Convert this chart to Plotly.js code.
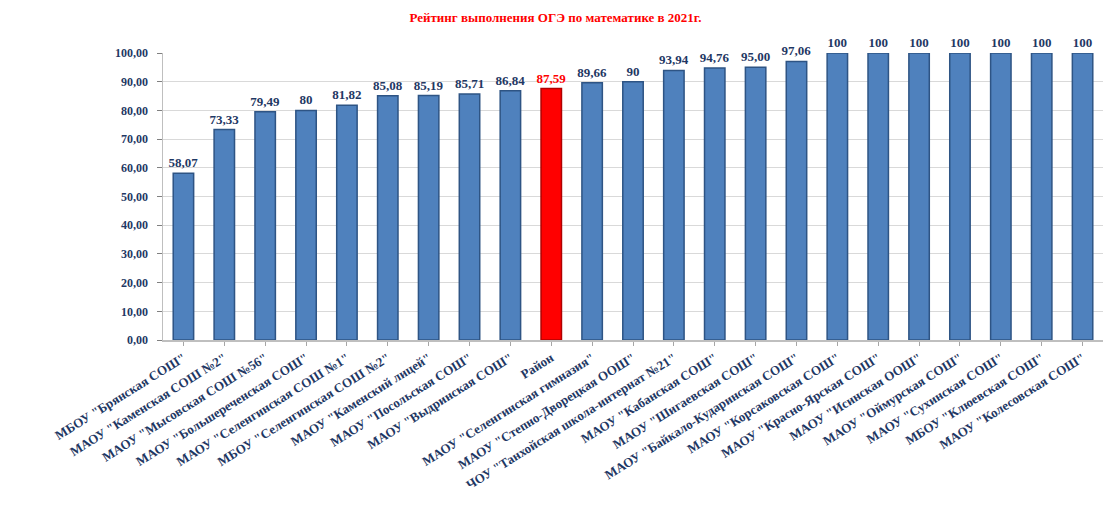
<!DOCTYPE html>
<html><head><meta charset="utf-8">
<script src="https://cdn.plot.ly/plotly-3.0.1.min.js"></script>
<style>html,body{margin:0;padding:0;background:#fff}</style>
</head><body>
<div id="chart" style="width:1111px;height:510px"></div>
<script>
const schools = [
  'МБОУ "Брянская СОШ"',
  'МАОУ "Каменская СОШ №2"',
  'МАОУ "Мысовская СОШ №56"',
  'МАОУ "Большереченская СОШ"',
  'МАОУ "Селенгинская СОШ №1"',
  'МБОУ "Селенгинская СОШ №2"',
  'МАОУ "Каменский лицей"',
  'МАОУ "Посольская СОШ"',
  'МАОУ "Выдринская СОШ"',
  'Район',
  'МАОУ "Селенгинская гимназия"',
  'МАОУ "Степно-Дворецкая ООШ"',
  'ЧОУ "Танхойская школа-интернат №21"',
  'МАОУ "Кабанская СОШ"',
  'МАОУ "Шигаевская СОШ"',
  'МАОУ "Байкало-Кударинская СОШ"',
  'МАОУ "Корсаковская СОШ"',
  'МАОУ "Красно-Ярская СОШ"',
  'МАОУ "Исинская ООШ"',
  'МАОУ "Оймурская СОШ"',
  'МАОУ "Сухинская СОШ"',
  'МБОУ "Клюевская СОШ"',
  'МАОУ "Колесовская СОШ"'
];
const values = [58.07, 73.33, 79.49, 80, 81.82, 85.08, 85.19, 85.71, 86.84, 87.59, 89.66, 90, 93.94, 94.76, 95.00, 97.06, 100, 100, 100, 100, 100, 100, 100];
const valueLabels = ['58,07','73,33','79,49','80','81,82','85,08','85,19','85,71','86,84','87,59','89,66','90','93,94','94,76','95,00','97,06','100','100','100','100','100','100','100'];
const yTickValues = [0,10,20,30,40,50,60,70,80,90,100];
const yTickLabels = ['0,00','10,00','20,00','30,00','40,00','50,00','60,00','70,00','80,00','90,00','100,00'];
const highlight = 'Район';

const navy = '#1F3864';
const colors = schools.map(s => s === highlight ? '#FF0000' : '#4F81BD');
const lines = schools.map(s => s === highlight ? '#B00000' : '#2E5484');
const textColors = schools.map(s => s === highlight ? '#FF0000' : navy);

const trace = {
  type: 'bar',
  x: schools,
  y: values,
  text: valueLabels,
  textposition: 'outside',
  constraintext: 'none',
  cliponaxis: false,
  textfont: {family: 'Liberation Serif', size: 13, color: textColors, weight: 'bold'},
  marker: {color: colors, line: {color: lines, width: 1.5}},
  hoverinfo: 'x+y'
};

const layout = {
  width: 1111, height: 510,
  margin: {l: 163, r: 8, t: 53, b: 170},
  paper_bgcolor: '#fff', plot_bgcolor: '#fff',
  bargap: 0.5,
  showlegend: false,
  title: {text: 'Рейтинг выполнения ОГЭ по математике в 2021г.', x: 0.5, xanchor: 'center', y: 0.975, yanchor: 'top',
          font: {family: 'Liberation Serif', size: 13, color: '#FF0000', weight: 'bold'}},
  xaxis: {
    tickangle: -32,
    tickfont: {family: 'Liberation Serif', size: 13, color: navy, weight: 'bold'},
    showline: true, linecolor: '#BFBFBF', linewidth: 1.5,
    ticks: 'outside', ticklen: 4, tickcolor: '#A6A6A6',
    showgrid: false
  },
  yaxis: {
    range: [0, 100],
    tickvals: yTickValues, ticktext: yTickLabels,
    tickfont: {family: 'Liberation Serif', size: 12, color: navy, weight: 'bold'},
    ticklabelstandoff: 6,
    showgrid: true, gridcolor: '#D9D9D9', gridwidth: 1,
    showline: true, linecolor: '#BFBFBF', linewidth: 1.5,
    ticks: 'outside', ticklen: 5, tickcolor: '#808080',
    zeroline: false
  }
};

Plotly.newPlot('chart', [trace], layout, {displayModeBar: false, staticPlot: true});
</script>
</body></html>
